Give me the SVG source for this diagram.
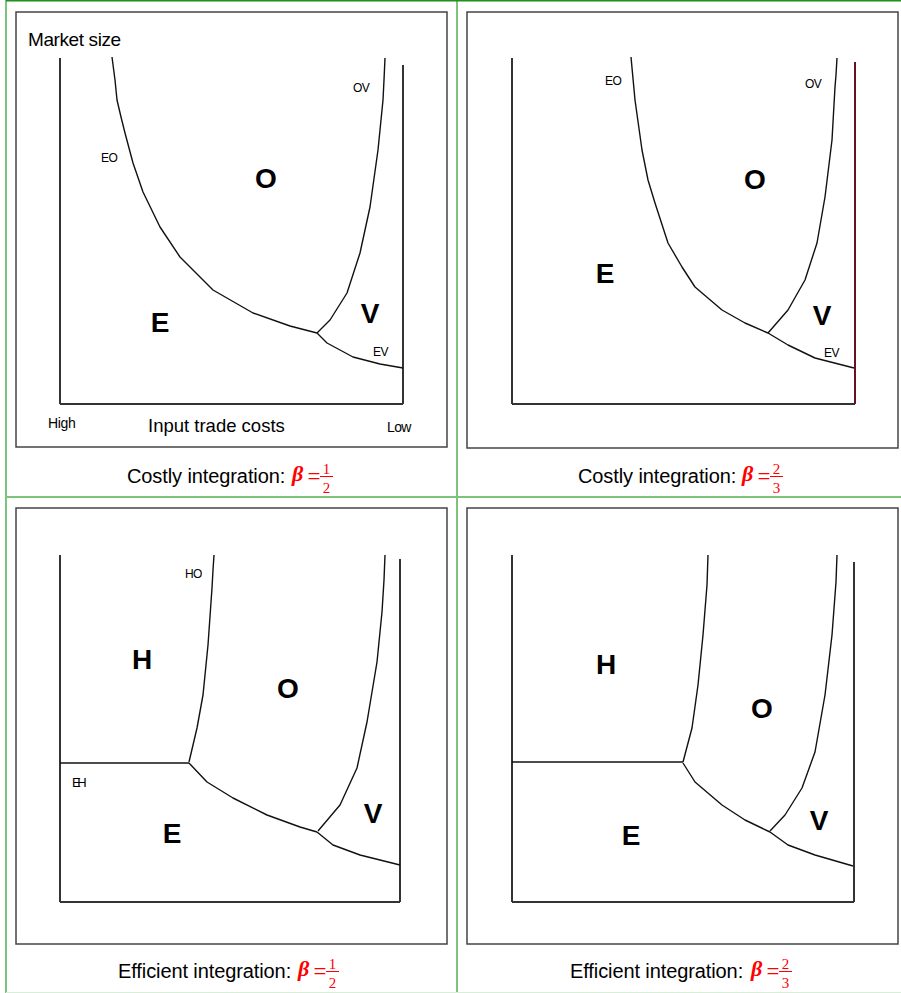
<svg xmlns="http://www.w3.org/2000/svg" width="901" height="993" viewBox="0 0 901 993">
<style>
.grid{stroke:#7cc47c;stroke-width:2;fill:none}
.box{fill:#fff;stroke:#444;stroke-width:1.5}
.axis{stroke:#333;stroke-width:2;fill:none}
.curve{stroke:#111;stroke-width:1.4;fill:none;stroke-linejoin:round}
.sans{font-family:"Liberation Sans",Arial,sans-serif;fill:#000}
.small{font-size:12px;letter-spacing:-0.6px}
.big{font-size:28px;font-weight:bold}
.cap{font-size:20px;letter-spacing:-0.1px}
.ser{font-family:"Liberation Serif","Times New Roman",serif;fill:#f00}
.beta{font-size:22px;font-weight:bold;font-style:italic}
.eq{font-size:23px}
.dig{font-size:15px}
</style>
<rect width="901" height="993" fill="#fff"/>
<g id="grid">
<line class="grid" x1="6" y1="0" x2="6" y2="993"/>
<line class="grid" x1="457" y1="0" x2="457" y2="993"/>
<line class="grid" x1="6" y1="497" x2="901" y2="497"/>
<line x1="6" y1="0.75" x2="901" y2="0.75" stroke="#1f8f1f" stroke-width="1.5"/>
<line x1="6" y1="992.5" x2="901" y2="992.5" stroke="#d8eed8" stroke-width="1"/>
</g>

<g id="panel1">
<rect class="box" x="16" y="12" width="431" height="435"/>
<line class="axis" x1="60" y1="58" x2="60" y2="404"/>
<line class="axis" x1="60" y1="404" x2="403" y2="404"/>
<line class="axis" x1="403" y1="65" x2="403" y2="404"/>
<text class="sans" x="28" y="46" font-size="19" letter-spacing="-0.4">Market size</text>
<text class="sans small" x="353" y="92">OV</text>
<text class="sans small" x="101" y="162">EO</text>
<text class="sans small" x="373" y="356">EV</text>
<text class="sans big" x="266" y="188" text-anchor="middle">O</text>
<text class="sans big" x="160" y="332" text-anchor="middle">E</text>
<text class="sans big" x="370" y="323" text-anchor="middle">V</text>
<text class="sans" x="48" y="428" font-size="14" letter-spacing="-0.3">High</text>
<text class="sans" x="148" y="432" font-size="18.5">Input trade costs</text>
<text class="sans" x="387" y="432" font-size="14" letter-spacing="-0.6">Low</text>
<text class="sans cap" x="127" y="483">Costly integration:</text>
<g transform="translate(292,483)">
<text class="ser beta" x="0" y="-2">β</text>
<text class="ser eq" x="15.5" y="1">=</text>
<text class="ser dig" x="34.5" y="-9" text-anchor="middle">1</text>
<line x1="28" y1="-6.5" x2="41" y2="-6.5" stroke="#f00" stroke-width="1"/>
<text class="ser dig" x="34.5" y="9.5" text-anchor="middle">2</text>
</g>
</g>

<g id="panel2">
<rect class="box" x="467" y="12" width="431" height="436"/>
<line class="axis" x1="512" y1="58" x2="512" y2="404"/>
<line class="axis" x1="512" y1="404" x2="855" y2="404"/>
<line x1="855" y1="62" x2="855" y2="404" stroke="#6b1020" stroke-width="2"/>
<text class="sans small" x="605" y="85">EO</text>
<text class="sans small" x="805" y="88">OV</text>
<text class="sans small" x="824" y="357">EV</text>
<text class="sans big" x="755" y="189" text-anchor="middle">O</text>
<text class="sans big" x="605" y="283" text-anchor="middle">E</text>
<text class="sans big" x="822" y="325" text-anchor="middle">V</text>
<text class="sans cap" x="578" y="483">Costly integration:</text>
<g transform="translate(742,483)">
<text class="ser beta" x="0" y="-2">β</text>
<text class="ser eq" x="15.5" y="1">=</text>
<text class="ser dig" x="34.5" y="-9" text-anchor="middle">2</text>
<line x1="28" y1="-6.5" x2="41" y2="-6.5" stroke="#f00" stroke-width="1"/>
<text class="ser dig" x="34.5" y="9.5" text-anchor="middle">3</text>
</g>
</g>

<g id="panel3">
<rect class="box" x="16" y="508" width="431" height="436"/>
<line class="axis" x1="60" y1="555" x2="60" y2="902"/>
<line class="axis" x1="60" y1="902" x2="400" y2="902"/>
<line class="axis" x1="400" y1="559" x2="400" y2="902"/>
<text class="sans small" x="185" y="578" letter-spacing="-0.2">HO</text>
<text class="sans" x="72" y="787" font-size="13" letter-spacing="-3.5">EH</text>
<text class="sans big" x="142" y="669" text-anchor="middle">H</text>
<text class="sans big" x="288" y="698" text-anchor="middle">O</text>
<text class="sans big" x="172" y="843" text-anchor="middle">E</text>
<text class="sans big" x="373" y="823" text-anchor="middle">V</text>
<text class="sans cap" x="118" y="978">Efficient integration:</text>
<g transform="translate(298,978)">
<text class="ser beta" x="0" y="-2">β</text>
<text class="ser eq" x="15.5" y="1">=</text>
<text class="ser dig" x="34.5" y="-9" text-anchor="middle">1</text>
<line x1="28" y1="-6.5" x2="41" y2="-6.5" stroke="#f00" stroke-width="1"/>
<text class="ser dig" x="34.5" y="9.5" text-anchor="middle">2</text>
</g>
</g>

<g id="panel4">
<rect class="box" x="467" y="508" width="431" height="436"/>
<line class="axis" x1="512" y1="555" x2="512" y2="902"/>
<line class="axis" x1="512" y1="902" x2="854" y2="902"/>
<line class="axis" x1="854" y1="562" x2="854" y2="902"/>
<text class="sans big" x="606" y="674" text-anchor="middle">H</text>
<text class="sans big" x="762" y="718" text-anchor="middle">O</text>
<text class="sans big" x="631" y="845" text-anchor="middle">E</text>
<text class="sans big" x="819" y="830" text-anchor="middle">V</text>
<text class="sans cap" x="570" y="978">Efficient integration:</text>
<g transform="translate(751,978)">
<text class="ser beta" x="0" y="-2">β</text>
<text class="ser eq" x="15.5" y="1">=</text>
<text class="ser dig" x="34.5" y="-9" text-anchor="middle">2</text>
<line x1="28" y1="-6.5" x2="41" y2="-6.5" stroke="#f00" stroke-width="1"/>
<text class="ser dig" x="34.5" y="9.5" text-anchor="middle">3</text>
</g>
</g>

<g id="connectors">
<polyline class="curve" points="112,57 115,80 117,100 121,117 125,133 133,163 143,192 160,227 180,257 213,290 253,313 290,326 317,333"/>
<polyline class="curve" points="317,333 327,343 353,357 380,364 403,368"/>
<polyline class="curve" points="385,58 384,80 383,100 378,150 370,207 360,253 347,293 330,320 317,333"/>

<polyline class="curve" points="631,57 635,100 642,150 648,180 655,203 668,243 682,267 695,287 722,310 745,323 768,333"/>
<polyline class="curve" points="768,333 788,345 815,358 854,368"/>
<polyline class="curve" points="837,58 836,75 835,87 832,140 825,197 817,243 805,280 788,310 768,333"/>

<line class="curve" x1="60" y1="763" x2="189" y2="763"/>
<polyline class="curve" points="214,555 213,570 212,588 208,645 203,695 197,728 189,762"/>
<polyline class="curve" points="189,763 207,782 233,798 267,815 300,827 317,832"/>
<polyline class="curve" points="317,832 333,845 360,855 400,865"/>
<polyline class="curve" points="385,555 384,580 382,612 377,662 367,722 357,768 340,805 318,831"/>

<line class="curve" x1="512" y1="762" x2="683" y2="762"/>
<polyline class="curve" points="708,555 707,585 703,635 698,685 692,728 683,762"/>
<polyline class="curve" points="683,763 695,782 722,805 745,820 770,832"/>
<polyline class="curve" points="770,832 788,845 815,855 853,866"/>
<polyline class="curve" points="837,555 836,582 832,635 825,695 815,752 802,788 785,815 770,831"/>
</g>
</svg>
